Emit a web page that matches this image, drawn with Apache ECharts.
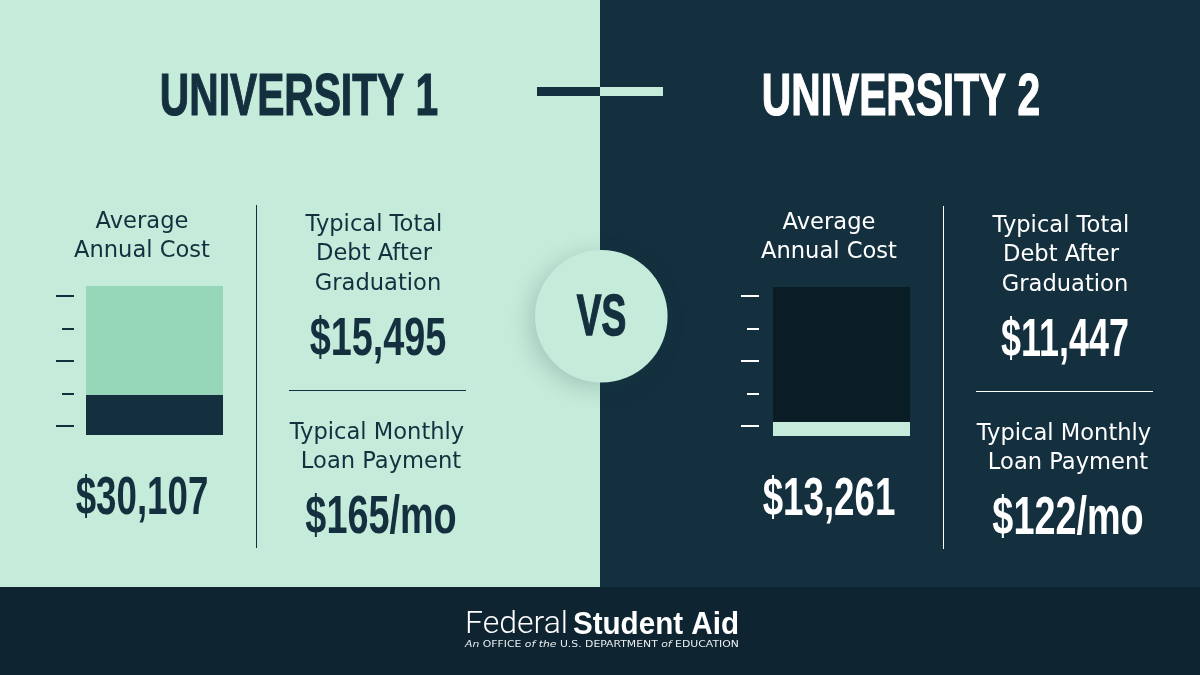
<!DOCTYPE html>
<html>
<head>
<meta charset="utf-8">
<style>html,body{margin:0;padding:0;background:#14303f}#main{width:1200px;height:675px}</style>
<script src="https://cdn.jsdelivr.net/npm/echarts@6/dist/echarts.min.js"></script>
</head>
<body>
<div id="main"></div>
<script>
// values
var universities = ['UNIVERSITY 1', 'UNIVERSITY 2'];
var annualCost = ['$30,107', '$13,261'];
var totalDebt = ['$15,495', '$11,447'];
var monthlyPayment = ['$165/mo', '$122/mo'];
// bar split, in percent of the bar height
var barLower = [27, 9.4];
var barUpper = [73, 90.6];
var barCategory = ['Average Annual Cost'];

var LIGHT = '#c5ebda', DARK = '#14303f', FOOTER = '#0e2431';
var HEAD = '"Liberation Sans",sans-serif';
var BODY = '"DejaVu Sans",sans-serif';

var chart = echarts.init(document.getElementById('main'), null, {renderer: 'canvas'});

function rect(x, y, w, h, fill, z) {
  return {type: 'rect', z: z || 0, silent: true, shape: {x: x, y: y, width: w, height: h}, style: {fill: fill}};
}
function text(str, x, y, font, fill, sx, heavy) {
  var style = {text: str, font: font, fill: fill, textAlign: 'center', textVerticalAlign: 'middle'};
  if (heavy) { // no heavy condensed face is installed, thicken the stems
    style.stroke = fill;
    style.lineWidth = heavy;
  }
  return {type: 'text', z: 5, silent: true, x: x, y: y, scaleX: sx || 1, style: style};
}

var graphic = [
  rect(0, 0, 600, 587, LIGHT),
  rect(600, 0, 600, 587, DARK),
  rect(0, 587, 1200, 88, FOOTER),
  rect(537, 87, 63, 9, DARK, 1),
  rect(600, 87, 63, 9, LIGHT, 1),
  {
    type: 'circle', z: 2, silent: true, shape: {cx: 601.3, cy: 316.3, r: 66.3},
    style: {fill: LIGHT, shadowBlur: 22, shadowOffsetX: -5, shadowOffsetY: 5, shadowColor: 'rgba(20,60,60,0.2)'}
  },
  text('VS', 601.5, 319, 'bold 57px ' + HEAD, DARK, 0.65, 1.5)
];

var titleX = [299, 901];
var debtScale = [0.7, 0.665];
var offsets = [[0, 0], [687, 1]];
[0, 1].forEach(function (i) {
  var dx = offsets[i][0], dy = offsets[i][1];
  var ink = i === 0 ? DARK : '#ffffff';
  graphic.push(
    text(universities[i], titleX[i], 99, 'bold 59px ' + HEAD, ink, 0.69, 1.2),
    text('Average', 142 + dx, 222.5 + dy, '22.6px ' + BODY, ink),
    text('Annual Cost', 142 + dx, 251.5 + dy, '22.6px ' + BODY, ink),
    text('Typical Total', 374 + dx, 225 + dy, '22.6px ' + BODY, ink),
    text('Debt After', 374 + dx, 254 + dy, '22.6px ' + BODY, ink),
    text('Graduation', 378 + dx, 284 + dy, '22.6px ' + BODY, ink),
    text('Typical Monthly', 377 + dx, 433 + dy, '22.6px ' + BODY, ink),
    text('Loan Payment', 381 + dx, 462 + dy, '22.6px ' + BODY, ink),
    text(annualCost[i], 142 + dx, 499 + dy, 'bold 54px ' + HEAD, ink, 0.68),
    text(totalDebt[i], 378 + dx, 340 + dy, 'bold 54px ' + HEAD, ink, debtScale[i]),
    text(monthlyPayment[i], 381 + dx, 518 + dy, 'bold 54px ' + HEAD, ink, 0.7),
    rect(256 + dx, 205 + dy, 1, 343, ink, 1),
    rect(289 + dx, 390 + dy, 177, 1, ink, 1)
  );
});

// footer wordmark
graphic.push(
  {type: 'text', z: 5, silent: true, x: 465, y: 625, style: {text: 'Federal', font: '300 32px Roboto,sans-serif', fill: '#fff', textAlign: 'left', textVerticalAlign: 'middle'}},
  {type: 'text', z: 5, silent: true, x: 739, y: 625, scaleX: 0.955, style: {text: 'Student Aid', font: 'bold 31px "Liberation Sans",sans-serif', fill: '#fff', textAlign: 'right', textVerticalAlign: 'middle'}},
  {
    type: 'text', z: 5, silent: true, x: 465, y: 645, scaleX: 1.275,
    style: {
      text: '{i|An} OFFICE {i|of the} U.S. DEPARTMENT {i|of} EDUCATION',
      font: '8.5px "DejaVu Sans",sans-serif', fill: '#e8eef0', textAlign: 'left', textVerticalAlign: 'middle',
      rich: {i: {fontStyle: 'italic', fontSize: 8.5, fontFamily: 'DejaVu Sans', fill: '#e8eef0'}}
    }
  }
);

var barGrids = [
  {left: 86, top: 286, width: 137, height: 149},
  {left: 773, top: 287, width: 137, height: 149}
];
var tickGrids = [
  {left: 74, top: 296, width: 1, height: 130},
  {left: 759, top: 296, width: 1, height: 130}
];
var lowerColor = [DARK, LIGHT];
var upperColor = ['#97d7b9', '#0a1c24'];
var tickColor = [DARK, '#ffffff'];

var xAxes = [], yAxes = [], series = [];
[0, 1].forEach(function (i) {
  xAxes.push({gridIndex: i, type: 'category', data: barCategory, show: false});
  yAxes.push({gridIndex: i, type: 'value', min: 0, max: 100, show: false});
  series.push(
    {type: 'bar', name: 'lower', xAxisIndex: i, yAxisIndex: i, stack: 'u' + i, barWidth: '100%', silent: true,
      itemStyle: {color: lowerColor[i]}, data: [barLower[i]]},
    {type: 'bar', name: 'upper', xAxisIndex: i, yAxisIndex: i, stack: 'u' + i, barWidth: '100%', silent: true,
      itemStyle: {color: upperColor[i]}, data: [barUpper[i]]}
  );
});
[0, 1].forEach(function (i) {
  xAxes.push({gridIndex: i + 2, type: 'value', show: false});
  yAxes.push({
    gridIndex: i + 2, type: 'value', min: 0, max: 4, interval: 2,
    axisLine: {show: false}, axisLabel: {show: false}, splitLine: {show: false},
    axisTick: {show: true, length: 18, lineStyle: {color: tickColor[i], width: 2}},
    minorTick: {show: true, splitNumber: 2, length: 12, lineStyle: {color: tickColor[i], width: 2}},
    minorSplitLine: {show: false}
  });
});

chart.setOption({
  animation: false,
  grid: barGrids.concat(tickGrids),
  xAxis: xAxes,
  yAxis: yAxes,
  series: series,
  graphic: {elements: graphic}
});
</script>
</body>
</html>
